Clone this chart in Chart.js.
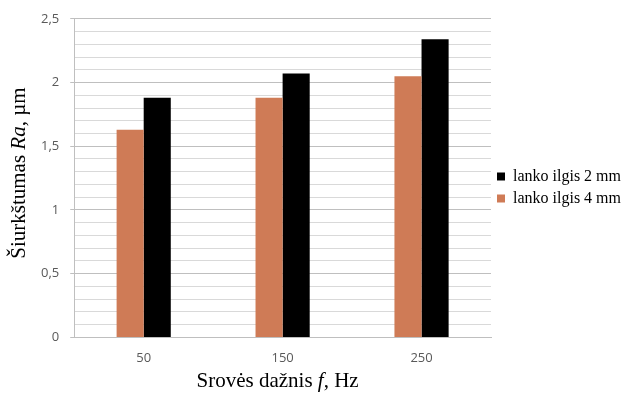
<!DOCTYPE html>
<html>
<head>
<meta charset="utf-8">
<script src="https://cdn.jsdelivr.net/npm/chart.js@4"></script>
<style>
  html, body { margin: 0; padding: 0; background: #fff; }
  #wrap { width: 626px; height: 396px; position: relative; }
</style>
</head>
<body>
<div id="wrap"><canvas id="chart"></canvas></div>
<script>
// ---- Data ----
const categories = ['50', '150', '250'];
const arc4mm = [1.63, 1.88, 2.05];
const arc2mm = [1.88, 2.07, 2.34];
const seriesNames = ['lanko ilgis 4 mm', 'lanko ilgis 2 mm'];

const xTitle = [
  { t: 'Srovės dažnis ', i: false },
  { t: 'f', i: true },
  { t: ', Hz', i: false },
];
const yTitle = [
  { t: 'Šiurkštumas ', i: false },
  { t: 'Ra', i: true },
  { t: ', µm', i: false },
];

const SERIF = '"Liberation Serif", "Times New Roman", serif';
const SANS = '"Open Sans", "Liberation Sans", sans-serif';

// ---- Axis titles with italic parts ----
function drawRich(ctx, parts, size) {
  let total = 0;
  const widths = parts.map(p => {
    ctx.font = `${p.i ? 'italic ' : ''}${size}px ${SERIF}`;
    const w = ctx.measureText(p.t).width;
    total += w;
    return w;
  });
  let x = -total / 2;
  parts.forEach((p, k) => {
    ctx.font = `${p.i ? 'italic ' : ''}${size}px ${SERIF}`;
    ctx.fillText(p.t, x, 0);
    x += widths[k];
  });
}

const richTitles = {
  id: 'richTitles',
  afterDraw(chart) {
    const { ctx, chartArea } = chart;
    ctx.save();
    ctx.fillStyle = '#000';
    ctx.textBaseline = 'middle';
    ctx.textAlign = 'left';
    ctx.save();
    ctx.translate((chartArea.left + chartArea.right) / 2 - 5, 381);
    drawRich(ctx, xTitle, 21);
    ctx.restore();
    ctx.save();
    ctx.translate(19, (chartArea.top + chartArea.bottom) / 2 - 5);
    ctx.rotate(-Math.PI / 2);
    drawRich(ctx, yTitle, 21);
    ctx.restore();
    ctx.restore();
  },
};

const isMajor = v => Math.abs(v * 2 - Math.round(v * 2)) < 1e-6;

new Chart(document.getElementById('chart'), {
  type: 'bar',
  data: {
    labels: categories,
    datasets: [
      {
        label: seriesNames[0],
        data: arc4mm,
        backgroundColor: '#cf7b56',
        categoryPercentage: 0.39,
        barPercentage: 1,
      },
      {
        label: seriesNames[1],
        data: arc2mm,
        backgroundColor: '#000000',
        categoryPercentage: 0.39,
        barPercentage: 1,
      },
    ],
  },
  options: {
    responsive: true,
    maintainAspectRatio: false,
    animation: false,
    devicePixelRatio: 1,
    layout: { padding: { left: 30, top: -4, bottom: 17, right: -5 } },
    plugins: {
      legend: {
        position: 'right',
        reverse: true,
        labels: {
          font: { family: SERIF, size: 16 },
          color: '#000',
          boxWidth: 8,
          boxHeight: 8,
          padding: 6,
        },
      },
      tooltip: { enabled: false },
    },
    scales: {
      x: {
        grid: { display: false, drawTicks: false },
        border: { display: true, color: '#bfbfbf' },
        ticks: {
          color: '#595959',
          font: { family: SANS, size: 13 },
          padding: 13,
        },
      },
      y: {
        min: 0,
        max: 2.5,
        grid: {
          color: ctx => isMajor(ctx.tick.value) ? '#bfbfbf' : '#d9d9d9',
          tickColor: ctx => isMajor(ctx.tick.value) ? '#bfbfbf' : 'rgba(0,0,0,0)',
          tickLength: 4,
        },
        border: { display: true, color: '#bfbfbf' },
        ticks: {
          stepSize: 0.1,
          autoSkip: false,
          color: '#595959',
          font: { family: SANS, size: 13 },
          padding: 11,
          callback: v => isMajor(v) ? String(Math.round(v * 10) / 10).replace('.', ',') : '',
        },
      },
    },
  },
  plugins: [richTitles],
});
</script>
</body>
</html>
